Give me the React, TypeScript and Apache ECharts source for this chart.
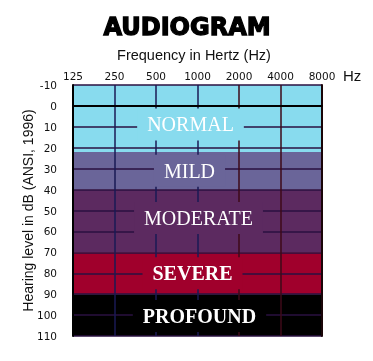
import React, { useEffect, useRef } from "react";
import * as echarts from "echarts";

const frequencies = ["125", "250", "500", "1000", "2000", "4000", "8000"];
const levelTicks = [-10, 110];
const bandNames = ["NORMAL", "MILD", "MODERATE", "SEVERE", "PROFOUND"];
const bandFrom = [-10, 22, 40, 70, 90];
const bandTo = [22, 40, 70, 90, 110];

const bandColors = ["#88dbee", "#6a6599", "#5c2a60", "#a0002c", "#000000"];
const bandBold = [false, false, false, true, true];
const labelOffsets = [
  [-7, 6],
  [-8, 0],
  [1, -3],
  [-5, 0],
  [2, 1],
];

export default function App() {
  const ref = useRef<HTMLDivElement>(null);
  useEffect(() => {
    if (!ref.current) return;
    const chart = echarts.init(ref.current, null, { renderer: "svg" });
    const bandAreas = bandNames.map((n, i) => [
      { name: n, yAxis: bandFrom[i], itemStyle: { color: bandColors[i] } },
      { yAxis: bandTo[i] },
    ]);
    const labelAreas = bandNames.map((n, i) => [
      {
        name: n,
        yAxis: bandFrom[i],
        itemStyle: { color: "rgba(0,0,0,0)" },
        label: {
          show: true,
          position: "inside",
          formatter: n,
          color: "#ffffff",
          fontFamily: "Liberation Serif",
          fontSize: 20,
          fontWeight: bandBold[i] ? "bold" : "normal",
          backgroundColor: bandColors[i],
          padding: [6, 10],
          offset: labelOffsets[i],
        },
      },
      { yAxis: bandTo[i] },
    ]);
    chart.setOption({
      animation: false,
      title: [
        {
          text: "AUDIOGRAM",
          left: 187,
          top: 15,
          textAlign: "center",
          padding: 0,
          textStyle: {
            fontFamily: "DejaVu Sans",
            fontWeight: 900,
            fontSize: 24,
            color: "#000",
            textBorderColor: "#000",
            textBorderWidth: 1.3,
          },
        },
        {
          text: "Frequency in Hertz (Hz)",
          left: 194,
          top: 47,
          textAlign: "center",
          padding: 0,
          textStyle: {
            fontFamily: "Liberation Sans",
            fontWeight: "normal",
            fontSize: 14.5,
            color: "#111",
          },
        },
        {
          text: "Hz",
          left: 343,
          top: 68,
          padding: 0,
          textStyle: {
            fontFamily: "Liberation Sans",
            fontWeight: "normal",
            fontSize: 15,
            color: "#111",
          },
        },
      ],
      grid: { left: 73, right: 51, top: 85, bottom: 25 },
      xAxis: {
        type: "category",
        position: "top",
        data: frequencies,
        boundaryGap: false,
        z: 3,
        axisLine: { show: true, lineStyle: { color: "#000", width: 2 } },
        axisTick: { show: false },
        axisLabel: {
          margin: 4,
          fontFamily: "DejaVu Sans",
          fontSize: 10.5,
          color: "#111",
        },
        splitLine: {
          show: true,
          lineStyle: {
            width: 1.5,
            color: ["#1a1a55", "#1a1a55", "#1a1a55", "#1a1a55", "#3e0a18", "#3e0a18", "#2a0a10"],
          },
        },
      },
      yAxis: [
        {
          type: "value",
          inverse: true,
          min: levelTicks[0],
          max: levelTicks[1],
          interval: 10,
          z: 3,
          axisLine: { show: true, lineStyle: { color: "#000", width: 2 } },
          axisTick: { show: false },
          axisLabel: {
            margin: 16,
            fontFamily: "DejaVu Sans",
            fontSize: 10.5,
            color: "#111",
          },
          splitLine: {
            show: true,
            lineStyle: { width: 1.5, color: "#2a1040" },
          },
          name: "Hearing level in dB (ANSI, 1996)",
          nameLocation: "middle",
          nameGap: 38,
          nameMoveOverlap: false,
          nameTextStyle: {
            fontFamily: "Liberation Sans",
            fontSize: 14,
            color: "#111",
          },
        },
        {
          type: "value",
          inverse: true,
          min: levelTicks[0],
          max: levelTicks[1],
          interval: 10,
          position: "right",
          z: 3,
          axisLine: { show: true, lineStyle: { color: "#1a0508", width: 2 } },
          axisTick: { show: false },
          axisLabel: { show: false },
          splitLine: { show: false },
        },
      ],
      series: [
        {
          type: "line",
          data: [],
          z: 1,
          silent: true,
          markArea: { silent: true, z: 1, label: { show: false }, data: bandAreas },
        },
        {
          type: "line",
          data: [],
          z: 10,
          silent: true,
          markArea: { silent: true, z: 10, data: labelAreas },
        },
      ],
    });
    return () => chart.dispose();
  }, []);
  return (
    <div
      ref={ref}
      style={{ position: "fixed", left: 0, top: 0, width: 373, height: 361 }}
    />
  );
}
